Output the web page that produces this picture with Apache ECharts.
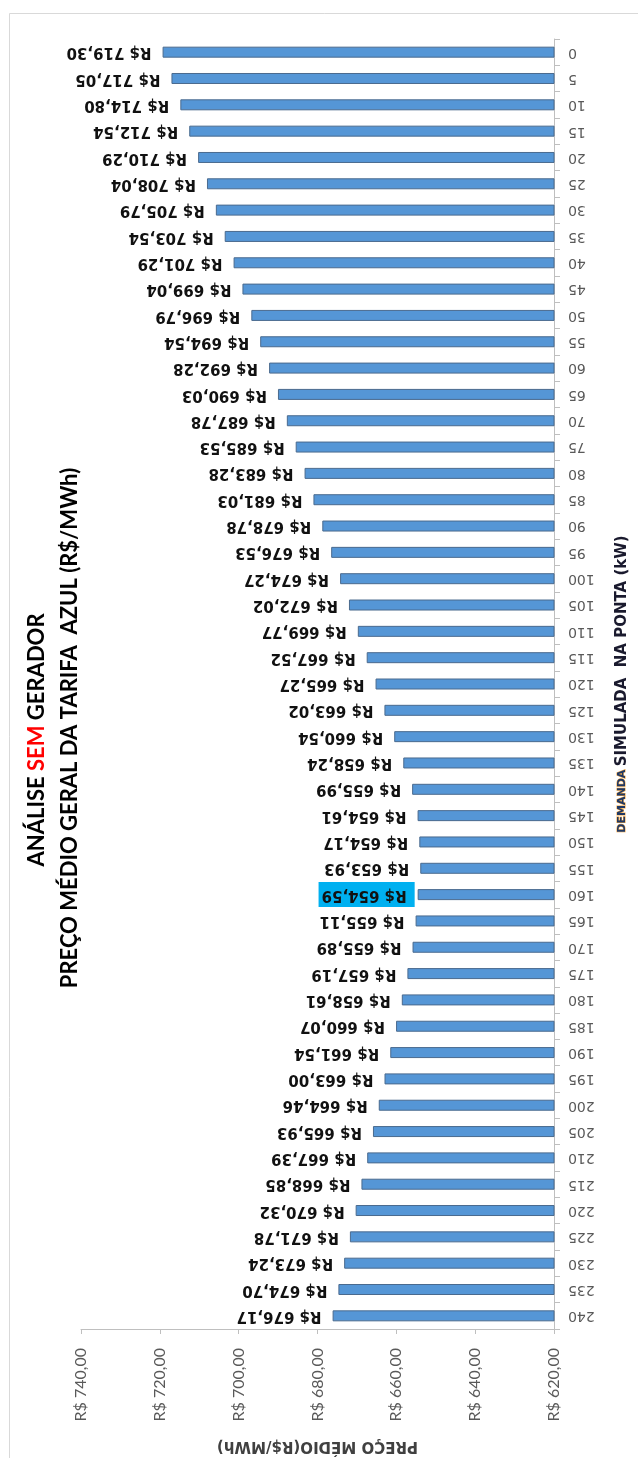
<!DOCTYPE html>
<html>
<head>
<meta charset="utf-8">
<script src="https://cdn.jsdelivr.net/npm/echarts@6/dist/echarts.min.js"></script>
<style>
  html, body { margin: 0; padding: 0; background: #ffffff; }
  #chart { width: 638px; height: 1458px; }
</style>
</head>
<body>
<div id="chart"></div>
<script>
// Simulated peak demand (kW)
const demandas = ['0','5','10','15','20','25','30','35','40','45','50','55','60','65','70','75','80','85','90','95',
  '100','105','110','115','120','125','130','135','140','145','150','155','160','165','170','175','180','185','190','195',
  '200','205','210','215','220','225','230','235','240'];

// Average price of the blue tariff (R$/MWh) for each demand
const precos = [719.30, 717.05, 714.80, 712.54, 710.29, 708.04, 705.79, 703.54, 701.29, 699.04,
  696.79, 694.54, 692.28, 690.03, 687.78, 685.53, 683.28, 681.03, 678.78, 676.53,
  674.27, 672.02, 669.77, 667.52, 665.27, 663.02, 660.54, 658.24, 655.99, 654.61,
  654.17, 653.93, 654.59, 655.11, 655.89, 657.19, 658.61, 660.07, 661.54, 663.00,
  664.46, 665.93, 667.39, 668.85, 670.32, 671.78, 673.24, 674.70, 676.17];

// Demand whose label is highlighted
const destaque = '160';

// Price axis ticks
const precoMin = 620;
const precoMax = 740;
const precoPasso = 20;

const brl = v => 'R$ ' + v.toFixed(2).replace('.', ',');

const serieDados = precos.map((v, i) => {
  if (demandas[i] !== destaque) return v;
  return {
    value: v,
    label: {
      backgroundColor: '#00b0f0',
      padding: [5, 3, 5, 8],
      distance: 3
    }
  };
});

const chart = echarts.init(document.getElementById('chart'), null, { renderer: 'canvas' });

chart.setOption({
  animation: false,
  backgroundColor: '#ffffff',
  grid: { left: 81, right: 72, top: 39, bottom: 127, containLabel: false },
  xAxis: {
    type: 'value',
    min: precoMin,
    max: precoMax,
    interval: precoPasso,
    inverse: true,
    position: 'bottom',
    axisLine: { show: true, lineStyle: { color: '#bfbfbf', width: 1 } },
    axisTick: { show: true, length: 5, lineStyle: { color: '#bfbfbf' } },
    splitLine: { show: false },
    axisLabel: {
      rotate: 90,
      margin: 19,
      color: '#595959',
      fontFamily: 'Lato',
      fontSize: 16,
      formatter: v => brl(v)
    },
    name: 'PREÇO MÉDIO(R$/MWh)',
    nameLocation: 'middle',
    nameRotate: 180,
    nameGap: 109,
    nameTextStyle: { color: '#404040', fontFamily: 'DejaVu Sans', fontWeight: 'bold', fontSize: 15 }
  },
  yAxis: {
    type: 'category',
    data: demandas,
    inverse: true,
    position: 'right',
    axisLine: { show: true, lineStyle: { color: '#bfbfbf', width: 1 } },
    axisTick: { show: true, length: 6, lineStyle: { color: '#bfbfbf' } },
    axisLabel: {
      rotate: 180,
      align: 'right',
      verticalAlign: 'middle',
      margin: 14,
      color: '#595959',
      fontFamily: 'DejaVu Sans',
      fontSize: 14
    },
    name: '{d|DEMANDA} {s|SIMULADA  NA PONTA (kW)}',
    nameLocation: 'middle',
    nameRotate: 90,
    nameGap: 61,
    nameTextStyle: {
      rich: {
        d: { color: '#1f3864', fontFamily: 'DejaVu Sans', fontWeight: 'bold', fontSize: 11,
             textBorderColor: '#f4a640', textBorderWidth: 1 },
        s: { color: '#1a1a2e', fontFamily: 'DejaVu Sans', fontWeight: 'bold', fontSize: 15 }
      }
    }
  },
  series: [{
    type: 'bar',
    data: serieDados,
    barWidth: 11,
    itemStyle: { color: '#5596d6', borderColor: '#4a6a8e', borderWidth: 1 },
    label: {
      show: true,
      position: 'left',
      distance: 11,
      rotate: 180,
      align: 'left',
      verticalAlign: 'middle',
      color: '#111111',
      fontFamily: 'DejaVu Sans',
      fontWeight: 'bold',
      fontSize: 15,
      formatter: p => brl(p.value)
    }
  }],
  graphic: [
    {
      type: 'rect',
      left: 7, top: 11, silent: true,
      shape: { width: 700, height: 1500 },
      style: { fill: 'none', stroke: '#d9d9d9', lineWidth: 1 }
    },
    {
      type: 'text',
      x: 37, y: 740,
      rotation: Math.PI / 2,
      style: {
        text: '{a|ANÁLISE }{r|SEM}{a| GERADOR}',
        align: 'center', verticalAlign: 'middle',
        textAlign: 'center', textVerticalAlign: 'middle',
        rich: {
          a: { fill: '#000000', fontFamily: 'Lato', fontWeight: 'bold', fontSize: 22 },
          r: { fill: '#ff0000', fontFamily: 'Lato', fontWeight: 'bold', fontSize: 22 }
        }
      }
    },
    {
      type: 'text',
      x: 70, y: 728,
      rotation: Math.PI / 2,
      style: {
        text: 'PREÇO MÉDIO GERAL DA TARIFA  AZUL (R$/MWh)',
        align: 'center', verticalAlign: 'middle',
        textAlign: 'center', textVerticalAlign: 'middle',
        fill: '#000000',
        font: 'bold 22px Lato'
      }
    }
  ]
});
</script>
</body>
</html>
